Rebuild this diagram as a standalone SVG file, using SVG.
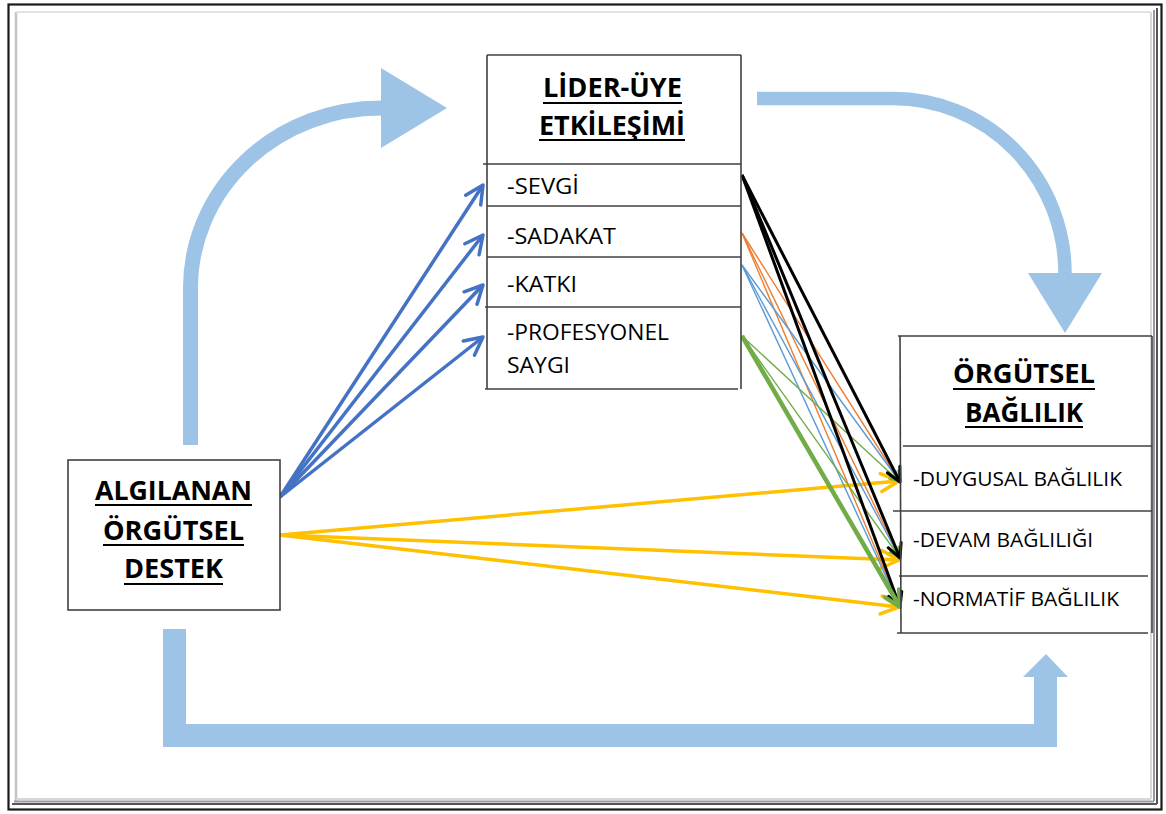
<svg xmlns="http://www.w3.org/2000/svg" width="1166" height="814" viewBox="0 0 1166 814">
<style>
.box{fill:#fff;stroke:#404040;stroke-width:1.6}
.ln{stroke:#404040;stroke-width:1.6;fill:none}
.ttl{font-family:"Open Sans","Liberation Sans",sans-serif;font-weight:bold;font-size:26px;fill:#000;text-anchor:middle}
.ul{stroke:#000;stroke-width:2.2}
.itm{font-family:"Open Sans","Liberation Sans",sans-serif;font-size:22px;fill:#000}
.itm2{font-family:"Open Sans","Liberation Sans",sans-serif;font-size:20.5px;fill:#000}
.big{fill:none;stroke:#9DC3E6}
.bigf{fill:#9DC3E6}
.blue{stroke:#4472C4;stroke-width:3.5;fill:none;marker-end:url(#mBlue)}
.yel{stroke:#FFC000;stroke-width:3.5;fill:none;marker-end:url(#mYel)}
.blk{stroke:#000;stroke-width:3;fill:none;marker-end:url(#mBlk)}
.org{stroke:#ED7D31;stroke-width:1.4;fill:none;marker-end:url(#mOrg)}
.lbl{stroke:#5B9BD5;stroke-width:1.4;fill:none;marker-end:url(#mLbl)}
.grn{stroke:#70AD47;stroke-width:1.4;fill:none;marker-end:url(#mGrn)}
.grnT{stroke:#70AD47;stroke-width:4.5;fill:none;marker-end:url(#mGrnT)}
</style>
<defs>
<marker id="mBlue" markerUnits="userSpaceOnUse" viewBox="-22 -12 26 24" refX="0" refY="0" markerWidth="26" markerHeight="24" orient="auto" overflow="visible"><path d="M-18,-9 L0,0 L-18,9" fill="none" stroke="#4472C4" stroke-width="3.5" stroke-linecap="round" stroke-linejoin="round"/></marker>
<marker id="mYel" markerUnits="userSpaceOnUse" viewBox="-22 -12 26 24" refX="0" refY="0" markerWidth="26" markerHeight="24" orient="auto" overflow="visible"><path d="M-18,-9 L0,0 L-18,9" fill="none" stroke="#FFC000" stroke-width="3.5" stroke-linecap="round" stroke-linejoin="round"/></marker>
<marker id="mBlk" markerUnits="userSpaceOnUse" viewBox="-22 -12 26 24" refX="0" refY="0" markerWidth="26" markerHeight="24" orient="auto" overflow="visible"><path d="M-14,-7 L0,0 L-14,7" fill="none" stroke="#000" stroke-width="3" stroke-linecap="round" stroke-linejoin="round"/></marker>
<marker id="mOrg" markerUnits="userSpaceOnUse" viewBox="-22 -12 26 24" refX="0" refY="0" markerWidth="26" markerHeight="24" orient="auto" overflow="visible"><path d="M-11,-5.5 L0,0 L-11,5.5" fill="none" stroke="#ED7D31" stroke-width="1.4"/></marker>
<marker id="mLbl" markerUnits="userSpaceOnUse" viewBox="-22 -12 26 24" refX="0" refY="0" markerWidth="26" markerHeight="24" orient="auto" overflow="visible"><path d="M-11,-5.5 L0,0 L-11,5.5" fill="none" stroke="#5B9BD5" stroke-width="1.4"/></marker>
<marker id="mGrn" markerUnits="userSpaceOnUse" viewBox="-22 -12 26 24" refX="0" refY="0" markerWidth="26" markerHeight="24" orient="auto" overflow="visible"><path d="M-11,-5.5 L0,0 L-11,5.5" fill="none" stroke="#70AD47" stroke-width="1.4"/></marker>
<marker id="mGrnT" markerUnits="userSpaceOnUse" viewBox="-22 -12 26 24" refX="0" refY="0" markerWidth="26" markerHeight="24" orient="auto" overflow="visible"><path d="M-16,-8 L0,0 L-16,8" fill="none" stroke="#70AD47" stroke-width="4" stroke-linecap="round" stroke-linejoin="round"/></marker>
</defs>
<rect x="0" y="0" width="1166" height="814" fill="#fff"/>
<!-- page frame -->
<g id="frame">
<rect x="8.5" y="4.5" width="1153" height="805" fill="none" stroke="#1a1a1a" stroke-width="2.2"/>
<line x1="16" y1="12" x2="16" y2="802" stroke="#c4c4c4" stroke-width="2.5"/>
<line x1="16" y1="12" x2="1150" y2="12" stroke="#e2e2e2" stroke-width="2"/>
<line x1="1151" y1="12" x2="1151" y2="799" stroke="#d8d8d8" stroke-width="2"/>
<line x1="1154" y1="10" x2="1154" y2="801" stroke="#9a9a9a" stroke-width="2"/>
<line x1="1157" y1="8" x2="1157" y2="804" stroke="#555" stroke-width="2"/>
<line x1="16" y1="799" x2="1151" y2="799" stroke="#d8d8d8" stroke-width="2"/>
<line x1="14" y1="801.5" x2="1154" y2="801.5" stroke="#9a9a9a" stroke-width="2"/>
<line x1="12" y1="804" x2="1157" y2="804" stroke="#555" stroke-width="2"/>
</g>
<!-- big light-blue arrows -->
<g id="bigArrows">
<path class="big" stroke-width="15" d="M190.5,445 L190.5,288 A190.5,180 0 0 1 381,108"/>
<polygon class="bigf" points="381,68 447,108 381,148"/>
<path class="big" stroke-width="13.5" d="M757,98.5 L893,98.5 A172,175 0 0 1 1065,273.5"/>
<polygon class="bigf" points="1028,273 1102,273 1065,333"/>
<polygon class="bigf" points="163,629 186,629 186,724 1034,724 1034,677 1023,677 1046,654 1068,677 1057,677 1057,747 163,747"/>
</g>
<!-- connectors -->
<g id="connectors">
<line class="blue" x1="280" y1="497" x2="483" y2="185"/>
<line class="blue" x1="280" y1="497" x2="483" y2="235"/>
<line class="blue" x1="280" y1="497" x2="483" y2="285"/>
<line class="blue" x1="280" y1="497" x2="483" y2="337"/>
<line class="yel" x1="280" y1="535" x2="899" y2="481"/>
<line class="yel" x1="280" y1="535" x2="899" y2="560"/>
<line class="yel" x1="280" y1="535" x2="899" y2="607"/>
<line class="org" x1="742" y1="233" x2="900" y2="482"/>
<line class="org" x1="742" y1="233" x2="900" y2="558"/>
<line class="org" x1="742" y1="233" x2="900" y2="607"/>
<line class="lbl" x1="742" y1="265" x2="900" y2="482"/>
<line class="lbl" x1="742" y1="265" x2="900" y2="558"/>
<line class="lbl" x1="742" y1="265" x2="900" y2="607"/>
<line class="grn" x1="742" y1="336" x2="900" y2="482"/>
<line class="grn" x1="742" y1="336" x2="900" y2="558"/>
<line class="blk" x1="742" y1="175" x2="900" y2="482"/>
<line class="blk" x1="742" y1="175" x2="900" y2="558"/>
<line class="blk" x1="742" y1="175" x2="900" y2="607"/>
<line class="grnT" x1="742" y1="336" x2="900" y2="607"/>
</g>
<!-- left node -->
<g id="algilanan">
<rect class="box" x="68" y="460" width="212" height="150"/>
<text class="ttl" x="173.5" y="500" textLength="157" lengthAdjust="spacingAndGlyphs">ALGILANAN</text>
<line class="ul" x1="95" y1="505" x2="252" y2="505"/>
<text class="ttl" x="173.5" y="540" textLength="141" lengthAdjust="spacingAndGlyphs">ÖRGÜTSEL</text>
<line class="ul" x1="103" y1="545" x2="244" y2="545"/>
<text class="ttl" x="173.5" y="578" textLength="99" lengthAdjust="spacingAndGlyphs">DESTEK</text>
<line class="ul" x1="124" y1="584" x2="223" y2="584"/>
</g>
<!-- middle node -->
<g id="lider">
<rect x="487" y="55" width="254" height="334" fill="#fff" stroke="none"/>
<line class="ln" x1="487" y1="55" x2="741" y2="55"/>
<line class="ln" x1="487" y1="55" x2="487" y2="389"/>
<line class="ln" x1="741" y1="55" x2="741" y2="389"/>
<line class="ln" x1="485" y1="389" x2="738" y2="389"/>
<line class="ln" x1="483" y1="164" x2="741" y2="164"/>
<line class="ln" x1="487" y1="206" x2="741" y2="206"/>
<line class="ln" x1="487" y1="257" x2="741" y2="257"/>
<line class="ln" x1="485" y1="307" x2="741" y2="307"/>
<text class="ttl" x="612.5" y="97" textLength="139" lengthAdjust="spacingAndGlyphs">LİDER-ÜYE</text>
<line class="ul" x1="543" y1="103" x2="682" y2="103"/>
<text class="ttl" x="612" y="135" textLength="146" lengthAdjust="spacingAndGlyphs">ETKİLEŞİMİ</text>
<line class="ul" x1="539" y1="140" x2="685" y2="140"/>
<text class="itm" x="507" y="194" textLength="72" lengthAdjust="spacingAndGlyphs">-SEVGİ</text>
<text class="itm" x="507" y="244" textLength="109" lengthAdjust="spacingAndGlyphs">-SADAKAT</text>
<text class="itm" x="507" y="292" textLength="70" lengthAdjust="spacingAndGlyphs">-KATKI</text>
<text class="itm" x="507" y="340" textLength="162" lengthAdjust="spacingAndGlyphs">-PROFESYONEL</text>
<text class="itm" x="507" y="373" textLength="63" lengthAdjust="spacingAndGlyphs">SAYGI</text>
</g>
<!-- right node -->
<g id="orgutsel">
<line class="ln" x1="898" y1="336" x2="1152" y2="336"/>
<line class="ln" x1="900" y1="336" x2="901" y2="633"/>
<line class="ln" x1="1152" y1="336" x2="1152" y2="633"/>
<line class="ln" x1="897" y1="633" x2="1148" y2="633"/>
<line class="ln" x1="903" y1="446" x2="1152" y2="446"/>
<line class="ln" x1="893" y1="511" x2="1152" y2="511"/>
<line class="ln" x1="899" y1="576" x2="1148" y2="576"/>
<text class="ttl" x="1024" y="383" textLength="142" lengthAdjust="spacingAndGlyphs">ÖRGÜTSEL</text>
<line class="ul" x1="953" y1="389" x2="1095" y2="389"/>
<text class="ttl" x="1024" y="422" textLength="118" lengthAdjust="spacingAndGlyphs">BAĞLILIK</text>
<line class="ul" x1="965" y1="427" x2="1083" y2="427"/>
<text class="itm2" x="913" y="486" textLength="209" lengthAdjust="spacingAndGlyphs">-DUYGUSAL BAĞLILIK</text>
<text class="itm2" x="913" y="547" textLength="180" lengthAdjust="spacingAndGlyphs">-DEVAM BAĞLILIĞI</text>
<text class="itm2" x="913" y="606" textLength="206" lengthAdjust="spacingAndGlyphs">-NORMATİF BAĞLILIK</text>
</g>
</svg>
